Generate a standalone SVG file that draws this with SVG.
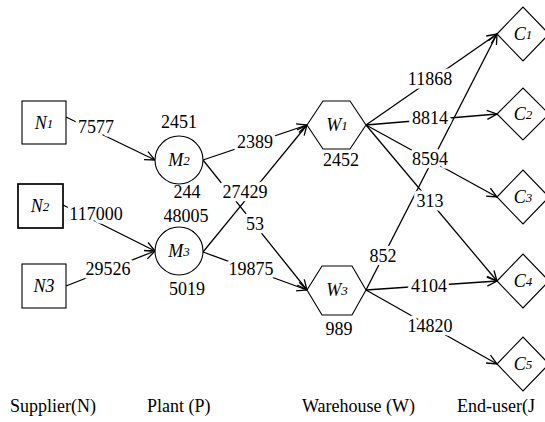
<svg xmlns="http://www.w3.org/2000/svg" width="545" height="422" viewBox="0 0 545 422">
<defs>
<marker id="arr" markerWidth="12" markerHeight="12" refX="11" refY="6" orient="auto" markerUnits="userSpaceOnUse">
<path d="M1,1.5 L11,6 L1,10.5" fill="none" stroke="#000" stroke-width="1.3"/>
</marker>
</defs>
<style>
.nd{fill:#fff;stroke:#000;stroke-width:1.1}
.lbl{font-family:"Liberation Serif","Times New Roman",serif;font-style:italic;font-size:18px;text-anchor:middle;dominant-baseline:central;fill:#000}
.sub{font-size:13px}
.num{font-family:"Liberation Serif","Times New Roman",serif;font-size:18px;text-anchor:middle;fill:#000}
.el{font-family:"Liberation Serif","Times New Roman",serif;font-size:18px;text-anchor:middle;fill:#000;stroke:#fff;stroke-width:7;paint-order:stroke;stroke-linejoin:round}
.cap{font-family:"Liberation Serif","Times New Roman",serif;font-size:18px;fill:#000}
.ed line{stroke:#000;stroke-width:1.3;marker-end:url(#arr)}
</style>
<rect width="545" height="422" fill="#fff"/>
<g id="connectors" class="ed">
<line x1="66" y1="117" x2="155" y2="160"/>
<line x1="63" y1="205" x2="155" y2="251"/>
<line x1="66" y1="286" x2="155" y2="251"/>
<line x1="203" y1="160" x2="307" y2="125"/>
<line x1="203" y1="160" x2="307" y2="290"/>
<line x1="203" y1="252" x2="307" y2="125"/>
<line x1="203" y1="252" x2="307" y2="290"/>
<line x1="366" y1="125" x2="497" y2="34"/>
<line x1="366" y1="125" x2="497" y2="114"/>
<line x1="366" y1="125" x2="497" y2="197"/>
<line x1="366" y1="125" x2="497" y2="281"/>
<line x1="366" y1="290" x2="497" y2="34"/>
<line x1="366" y1="290" x2="497" y2="281"/>
<line x1="366" y1="290" x2="497" y2="364"/>
</g>
<g id="edge-labels">
<text class="el" x="96" y="133">7577</text>
<text class="el" x="96" y="220">117000</text>
<text class="el" x="108" y="275">29526</text>
<text class="el" x="255" y="148">2389</text>
<text class="el" x="245" y="198">27429</text>
<text class="el" x="255" y="230">53</text>
<text class="el" x="251" y="275">19875</text>
<text class="el" x="430" y="85">11868</text>
<text class="el" x="430" y="124">8814</text>
<text class="el" x="430" y="165">8594</text>
<text class="el" x="430" y="207">313</text>
<text class="el" x="383" y="262">852</text>
<text class="el" x="429" y="292">4104</text>
<text class="el" x="430" y="332">14820</text>
</g>
<g id="N1"><rect class="nd" x="22" y="101" width="44" height="43"/><text class="lbl" x="44" y="123">N<tspan class="sub">1</tspan></text></g>
<g id="N2"><rect class="nd" x="18" y="184" width="45" height="44" style="stroke-width:1.7"/><text class="lbl" x="40" y="206">N<tspan class="sub">2</tspan></text></g>
<g id="N3"><rect class="nd" x="22" y="264" width="44" height="44"/><text class="lbl" x="44" y="286">N3</text></g>
<g id="M2"><circle class="nd" cx="179" cy="160" r="24"/><text class="lbl" x="179" y="160">M<tspan class="sub">2</tspan></text><text class="num" x="179" y="128">2451</text><text class="num" x="187" y="198">244</text></g>
<g id="M3"><circle class="nd" cx="179" cy="251" r="24"/><text class="lbl" x="179" y="251">M<tspan class="sub">3</tspan></text><text class="num" x="186" y="222">48005</text><text class="num" x="187" y="295">5019</text></g>
<g id="W1"><polygon class="nd" points="307,125 323,101 350,101 366,125 350,149 323,149"/><text class="lbl" x="337" y="125">W<tspan class="sub">1</tspan></text><text class="num" x="341" y="166">2452</text></g>
<g id="W3"><polygon class="nd" points="307,290 322,266 352,266 366,290 352,315 322,315"/><text class="lbl" x="337" y="290">W<tspan class="sub">3</tspan></text><text class="num" x="339" y="335">989</text></g>
<g id="C1"><polygon class="nd" points="497,34 523,7 549,34 523,61"/><text class="lbl" x="523" y="34">C<tspan class="sub">1</tspan></text></g>
<g id="C2"><polygon class="nd" points="497,114 523,88 549,114 523,140"/><text class="lbl" x="523" y="114">C<tspan class="sub">2</tspan></text></g>
<g id="C3"><polygon class="nd" points="497,197 523,170 549,197 523,224"/><text class="lbl" x="523" y="197">C<tspan class="sub">3</tspan></text></g>
<g id="C4"><polygon class="nd" points="497,281 523,254 549,281 523,308"/><text class="lbl" x="523" y="281">C<tspan class="sub">4</tspan></text></g>
<g id="C5"><polygon class="nd" points="497,364 523,337 549,364 523,391"/><text class="lbl" x="523" y="364">C<tspan class="sub">5</tspan></text></g>
<g id="captions">
<text class="cap" x="10" y="412">Supplier(N)</text>
<text class="cap" x="147" y="412">Plant (P)</text>
<text class="cap" x="302" y="412">Warehouse (W)</text>
<text class="cap" x="457" y="412">End-user(J</text>
</g>
</svg>
